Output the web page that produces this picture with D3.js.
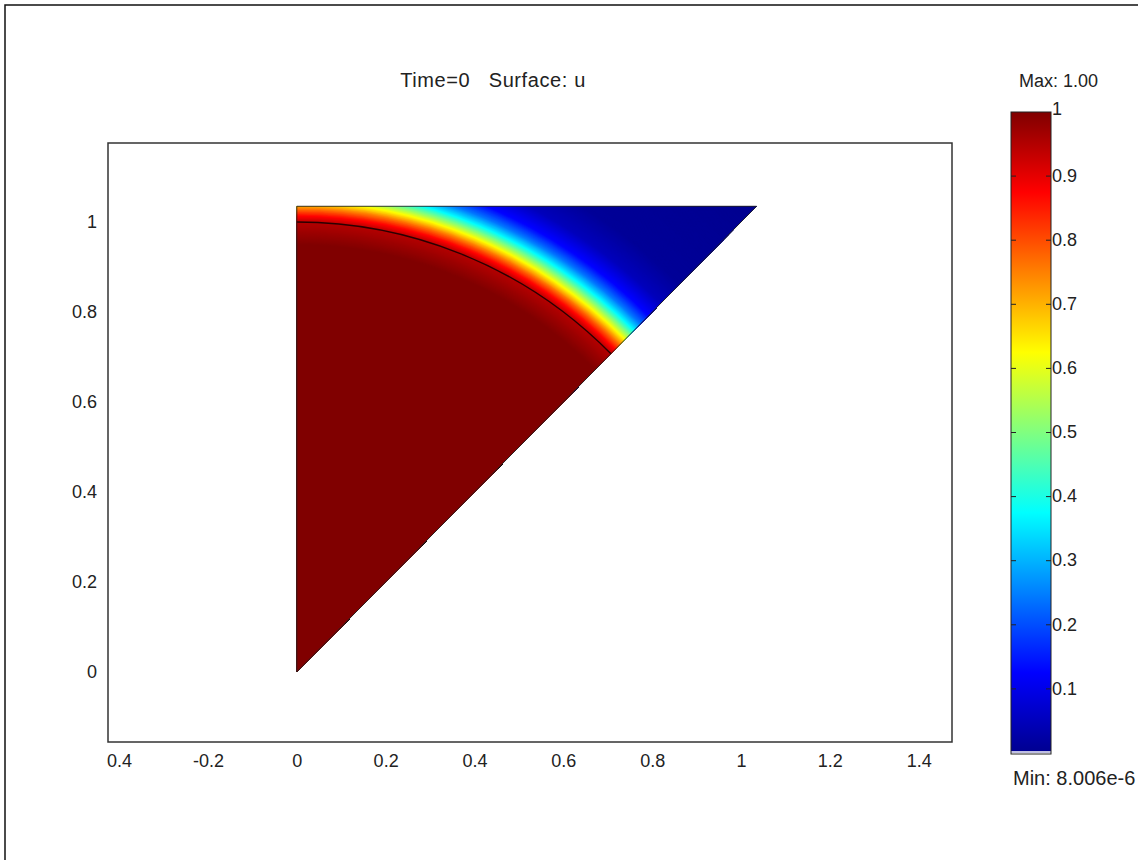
<!DOCTYPE html>
<html>
<head>
<meta charset="utf-8">
<script src="https://cdn.jsdelivr.net/npm/d3@7"></script>
<style>
  body { margin: 0; background: #fff; }
  svg text { font-family: "Liberation Sans", Arial, sans-serif; font-size: 18px; fill: #222; white-space: pre; }
</style>
</head>
<body>
<svg id="plot" width="1138" height="860"></svg>
<script>
// data
const titleText = "Time=0   Surface: u";
const xTicks = [-0.4, -0.2, 0, 0.2, 0.4, 0.6, 0.8, 1, 1.2, 1.4];
const xTickLabels = ["0.4", "-0.2", "0", "0.2", "0.4", "0.6", "0.8", "1", "1.2", "1.4"];
const yTicks = [0, 0.2, 0.4, 0.6, 0.8, 1];
const yTickLabels = ["0", "0.2", "0.4", "0.6", "0.8", "1"];
// triangle domain corners (x, y)
const domainCorners = [[0, 0], [0, 1.035], [1.035, 1.035]];
// radial profile of u (radius from origin -> value)
const profileR = [0, 0.95, 1.0, 1.015, 1.03, 1.045, 1.06, 1.075, 1.095, 1.12, 1.16, 1.22, 1.5];
const profileU = [1, 1, 0.95, 0.87, 0.76, 0.63, 0.5, 0.37, 0.24, 0.13, 0.05, 0.01, 0];
const contourLevels = [1];
const cbarTicks = [0.1, 0.2, 0.3, 0.4, 0.5, 0.6, 0.7, 0.8, 0.9, 1];
const maxLabel = "Max: 1.00";
const minLabel = "Min: 8.006e-6";

function render() {
  const svg = d3.select("#plot");

  // outer frame
  svg.append("rect")
    .attr("x", 5).attr("y", 5).attr("width", 1160).attr("height", 900)
    .attr("fill", "#fff").attr("stroke", "#111").attr("stroke-width", 1.5);

  const x = d3.scaleLinear().domain([-0.425, 1.475]).range([108, 952]);
  const y = d3.scaleLinear().domain([-0.1556, 1.1756]).range([742, 143]);
  const kx = x(1) - x(0);
  const ky = y(0) - y(1);

  // jet colour map
  const jet = d3.scaleLinear()
    .domain([0, 0.125, 0.375, 0.625, 0.875, 1])
    .range(["#00008f", "#0000ff", "#00ffff", "#ffff00", "#ff0000", "#800000"]);
  const uOfR = d3.scaleLinear().domain(profileR).range(profileU).clamp(true);

  // title
  svg.append("text")
    .attr("x", 493).attr("y", 82)
    .attr("text-anchor", "middle").attr("dominant-baseline", "middle")
    .attr("font-size", 20).style("font-size", "20px").attr("letter-spacing", 0.6)
    .text(titleText);

  // plot box
  svg.append("rect")
    .attr("x", x.range()[0]).attr("y", y.range()[1])
    .attr("width", x.range()[1] - x.range()[0])
    .attr("height", y.range()[0] - y.range()[1])
    .attr("fill", "#fff").attr("stroke", "#333").attr("stroke-width", 1.5);

  // clip to the triangle
  const polyPts = domainCorners.map(d => [x(d[0]), y(d[1])]);
  svg.append("clipPath").attr("id", "tri")
    .append("polygon").attr("points", polyPts.map(p => p.join(",")).join(" "));

  const field = svg.append("g").attr("clip-path", "url(#tri)");
  const steps = d3.range(1.5, 0, -0.002);
  field.selectAll("ellipse.band")
    .data(steps)
    .enter().append("ellipse")
    .attr("class", "band")
    .attr("cx", x(0)).attr("cy", y(0))
    .attr("rx", d => d * kx).attr("ry", d => d * ky)
    .attr("fill", d => jet(uOfR(d)));

  // contour line
  field.selectAll("ellipse.contour")
    .data(contourLevels)
    .enter().append("ellipse")
    .attr("class", "contour")
    .attr("cx", x(0)).attr("cy", y(0))
    .attr("rx", d => d * kx).attr("ry", d => d * ky)
    .attr("fill", "none").attr("stroke", "#2a0000").attr("stroke-width", 1.4);

  svg.append("polygon")
    .attr("points", polyPts.map(p => p.join(",")).join(" "))
    .attr("fill", "none").attr("stroke", "#222").attr("stroke-width", 0.9);

  // axes
  const xAxis = svg.append("g")
    .attr("transform", `translate(0,${y.range()[0]})`)
    .call(d3.axisBottom(x).tickValues(xTicks).tickSize(0).tickPadding(12)
      .tickFormat((d, i) => xTickLabels[i]));
  xAxis.select(".domain").remove();

  const yAxis = svg.append("g")
    .attr("transform", `translate(${x.range()[0]},0)`)
    .call(d3.axisLeft(y).tickValues(yTicks).tickSize(0).tickPadding(11)
      .tickFormat((d, i) => yTickLabels[i]));
  yAxis.select(".domain").remove();
  svg.selectAll(".tick text").attr("font-size", 18).attr("fill", "#222")
    .attr("font-family", "'Liberation Sans', Arial, sans-serif");

  // colour bar
  const cb = { x: 1011, w: 40 };
  const cy = d3.scaleLinear().domain([0, 1]).range([753, 112]);
  const grad = svg.append("defs").append("linearGradient")
    .attr("id", "jetgrad").attr("x1", 0).attr("y1", 1).attr("x2", 0).attr("y2", 0);
  grad.selectAll("stop")
    .data(d3.range(0, 1.0001, 0.025))
    .enter().append("stop")
    .attr("offset", d => d)
    .attr("stop-color", d => jet(d));

  svg.append("rect")
    .attr("x", cb.x).attr("y", cy(1))
    .attr("width", cb.w).attr("height", cy(0) - cy(1))
    .attr("fill", "url(#jetgrad)");
  svg.append("line")
    .attr("x1", cb.x).attr("x2", cb.x + cb.w)
    .attr("y1", cy(0) - 1).attr("y2", cy(0) - 1)
    .attr("stroke", "#fff").attr("stroke-width", 1.5);
  svg.append("rect")
    .attr("x", cb.x).attr("y", cy(1))
    .attr("width", cb.w).attr("height", cy(0) - cy(1) + 1)
    .attr("fill", "none").attr("stroke", "#222").attr("stroke-width", 1);

  const cbt = svg.append("g");
  cbt.selectAll("line.l")
    .data(cbarTicks.filter(d => d < 1))
    .enter().append("line")
    .attr("x1", cb.x).attr("x2", cb.x + 5)
    .attr("y1", d => cy(d)).attr("y2", d => cy(d))
    .attr("stroke", "#222");
  cbt.selectAll("line.r")
    .data(cbarTicks.filter(d => d < 1))
    .enter().append("line")
    .attr("x1", cb.x + cb.w - 5).attr("x2", cb.x + cb.w)
    .attr("y1", d => cy(d)).attr("y2", d => cy(d))
    .attr("stroke", "#222");
  cbt.selectAll("text")
    .data(cbarTicks)
    .enter().append("text")
    .attr("x", cb.x + cb.w + 1)
    .attr("y", d => cy(d) + (d === 1 ? -2 : 1))
    .attr("dominant-baseline", "middle")
    .text(d => d3.format("~g")(d));

  svg.append("text")
    .attr("x", 1019).attr("y", 82).attr("dominant-baseline", "middle")
    .text(maxLabel);
  svg.append("text")
    .attr("x", 1013).attr("y", 780).attr("dominant-baseline", "middle")
    .style("font-size", "20px")
    .text(minLabel);
}

render();
</script>
</body>
</html>
